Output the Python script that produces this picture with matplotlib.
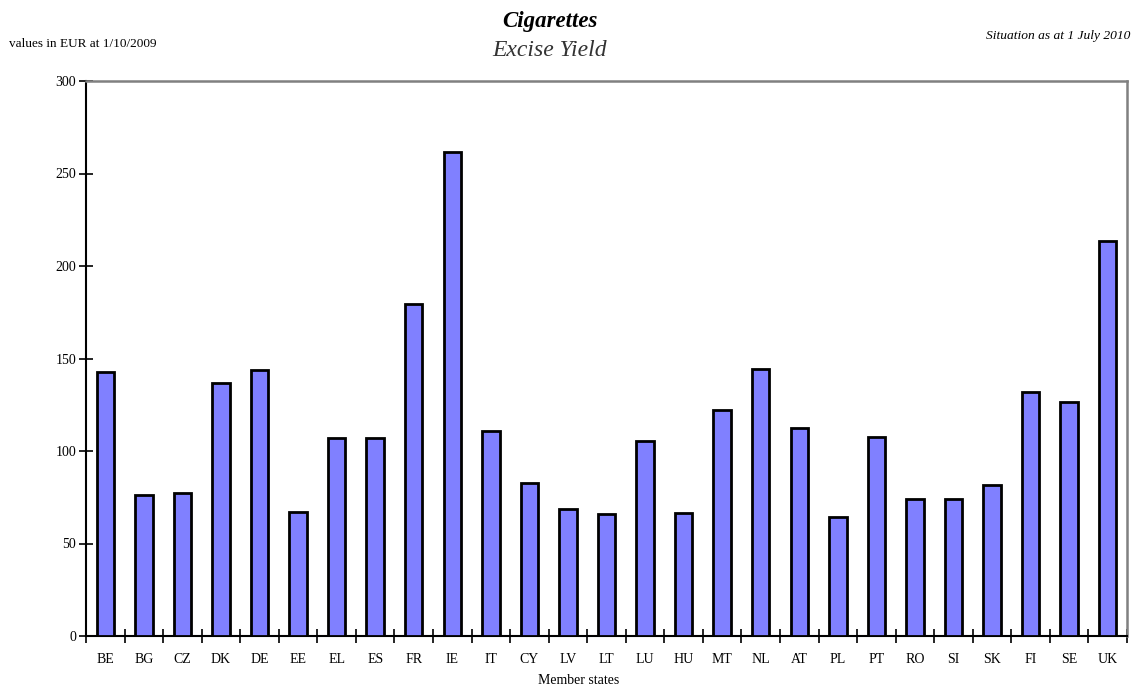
import matplotlib
matplotlib.use("Agg")
import matplotlib.pyplot as plt
import numpy as np

countries = ["BE", "BG", "CZ", "DK", "DE", "EE", "EL", "ES", "FR", "IE", "IT", "CY", "LV", "LT",
             "LU", "HU", "MT", "NL", "AT", "PL", "PT", "RO", "SI", "SK", "FI", "SE", "UK"]
excise_yield = [142.5, 76.0, 77.1, 136.6, 143.8, 67.2, 107.2, 107.2, 179.3, 261.5, 111.0, 82.9, 68.5, 66.1,
                105.4, 66.7, 122.2, 144.5, 112.6, 64.3, 107.7, 74.2, 74.2, 81.6, 132.1, 126.6, 213.7]
y_ticks = [0, 50, 100, 150, 200, 250, 300]

plt.rcParams['font.family'] = ['Liberation Serif', 'DejaVu Serif']

fig = plt.figure(figsize=(11.31, 6.86), dpi=100)
ax = fig.add_axes([86/1131, 1 - 636/686, (1127-86)/1131, (636-81)/686])

x = np.arange(len(countries))
ax.bar(x, excise_yield, width=0.45, color="#8080FF", edgecolor="black", linewidth=2.0, zorder=3)

ax.set_xlim(-0.5, len(countries) - 0.5)
ax.set_ylim(0, 300)
ax.set_yticks(y_ticks)
ax.set_yticklabels([str(v) for v in y_ticks], fontsize=10)
ax.set_xticks(x)
ax.set_xticklabels(countries, fontsize=10)
ax.tick_params(axis='x', length=0, pad=12)
ax.set_xticks(np.arange(len(countries) + 1) - 0.5, minor=True)
ax.tick_params(axis='x', which='minor', direction='inout', length=10, width=1.2, color='black')
ax.tick_params(axis='y', direction='inout', length=10, width=1.2, pad=2)

for side in ['left', 'bottom']:
    ax.spines[side].set_color('black')
    ax.spines[side].set_linewidth(1.5)
for side in ['top', 'right']:
    ax.spines[side].set_color('#808080')
    ax.spines[side].set_linewidth(1.8)

fig.text(579/1131, 1 - 680/686, "Member states", ha='center', va='center', fontsize=10)

fig.text(550/1131, 1 - 21/686, "Cigarettes", ha='center', va='center', fontsize=16.5,
         fontweight='bold', fontstyle='italic')
fig.text(550/1131, 1 - 50/686, "Excise Yield", ha='center', va='center', fontsize=17,
         fontstyle='italic', color='#333333')
fig.text(9/1131, 1 - 44/686, "values in EUR at 1/10/2009", ha='left', va='center', fontsize=9.5)
fig.text(1130/1131, 1 - 36/686, "Situation as at 1 July 2010", ha='right', va='center', fontsize=9.7,
         fontstyle='italic')

fig.savefig("out.png", dpi=100)
